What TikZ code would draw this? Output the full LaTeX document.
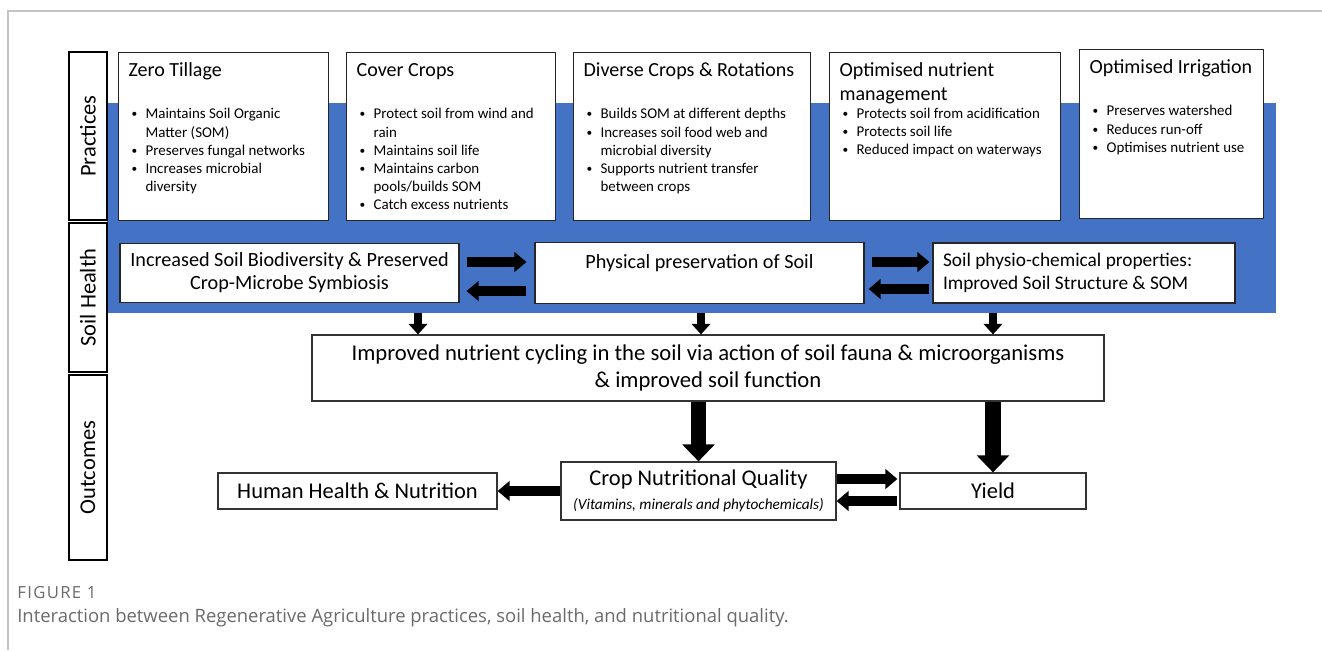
\documentclass[tikz,border=0pt]{standalone}
\usepackage{fontspec}
\setmainfont{Carlito}
\newfontfamily\capfont{Open Sans}
\newfontfamily\fignumfont[LetterSpace=8]{Open Sans}
\usetikzlibrary{arrows.meta,positioning,calc}

\definecolor{bandblue}{HTML}{4472C4}
\definecolor{capgray}{HTML}{6A6A6A}
\definecolor{framegray}{HTML}{C4C4C4}

% heading and bullet lines inside the practice cards
\newcommand{\ptitle}[2][14pt]{{\fontsize{11.4}{13.7}\selectfont\rule{0pt}{9pt}#2\par}\vspace{#1}}
\newcommand{\pitem}[1]{\par\hangindent=0.34cm\hangafter=1\noindent\hspace*{0.06cm}\makebox[0.28cm][l]{\raisebox{0.6pt}{\fontsize{6.5}{6.5}\selectfont\textbullet}}#1}
\newcommand{\card}[3]{\begin{minipage}[t][\dimexpr#2-8.8pt\relax][t]{\dimexpr#1-0.4cm\relax}\raggedright\let\\\newline\fontsize{8.5}{10.35}\selectfont#3\end{minipage}}

\begin{document}
\begin{tikzpicture}[x=0.02cm,y=-0.02cm,
  practice/.style={draw=black!85,line width=0.7pt,fill=white,anchor=north west,inner xsep=0.2cm,inner ysep=4.4pt},
  side/.style={draw=black,line width=0.8pt,fill=white,rotate=90,minimum height=0.76cm,inner sep=0pt,font=\fontsize{12.8}{14}\selectfont},
  soilbox/.style={draw=black!85,line width=0.7pt,fill=white,align=center,inner sep=0pt,font=\fontsize{11.5}{13.2}\selectfont},
  outbox/.style={draw=black!80,line width=0.7pt,fill=white,align=center,inner sep=0pt,font=\fontsize{12.8}{14.2}\selectfont},
  bigarrow/.style={line width=8.8pt,-{Triangle[length=9.7pt,width=18pt]}},
  midarrow/.style={line width=5.2pt,-{Triangle[length=6.8pt,width=11pt]}},
  thinarrow/.style={line width=4pt,-{Triangle[length=6pt,width=10.5pt]}}]
\useasboundingbox (0,0) rectangle (1322,650);

% open frame and the blue band behind the top two rows
\draw[framegray,line width=0.6pt] (8,650) |- (1322,11);
\fill[bandblue] (107,103) rectangle (1276,313);

% row labels
\node[side,minimum width=3.36cm] (practices) at (88,136) {Practices};
\node[side,minimum width=2.98cm] (health) at (88,297.5) {Soil Health};
\node[side,minimum width=3.7cm] (outcomes) at (88,467.5) {Outcomes};

% practices
\node[practice] (zero) at (118,52) {\card{4.2cm}{3.36cm}{%
  \ptitle{Zero Tillage}
  \pitem{Maintains Soil Organic\\Matter (SOM)}
  \pitem{Preserves fungal networks}
  \pitem{Increases microbial\\diversity}}};
\node[practice] (cover) at (346,52) {\card{4.18cm}{3.36cm}{%
  \ptitle{Cover Crops}
  \pitem{Protect soil from wind and\\rain}
  \pitem{Maintains soil life}
  \pitem{Maintains carbon\\pools/builds SOM}
  \pitem{Catch excess nutrients}}};
\node[practice] (diverse) at (573,52) {\card{4.74cm}{3.36cm}{%
  \ptitle{Diverse Crops \& Rotations}
  \pitem{Builds SOM at different depths}
  \pitem{Increases soil food web and\\microbial diversity}
  \pitem{Supports nutrient transfer\\between crops}}};
\node[practice] (nutrient) at (829,52) {\card{4.62cm}{3.36cm}{%
  \ptitle[0pt]{Optimised nutrient\\management}
  \pitem{Protects soil from acidification}
  \pitem{Protects soil life}
  \pitem{Reduced impact on waterways}}};
\node[practice] (irrigation) at (1079,49) {\card{3.68cm}{3.38cm}{%
  \ptitle{Optimised Irrigation}
  \pitem{Preserves watershed}
  \pitem{Reduces run-off}
  \pitem{Optimises nutrient use}}};

% soil health
\node[soilbox,minimum width=6.78cm,minimum height=1.18cm] (bio) at (289.5,273) {Increased Soil Biodiversity \& Preserved\\Crop-Microbe Symbiosis};
\node[soilbox,minimum width=6.58cm,minimum height=1.22cm] (phys) at (699.5,273) {Physical preservation of Soil\\\mbox{}};
\node[soilbox,minimum width=6.04cm,minimum height=1.2cm,align=flush left,text width=5.64cm,inner xsep=0.2cm,font=\fontsize{11}{13.4}\selectfont] (chem) at (1084,273) {Soil physio-chemical properties:\\Improved Soil Structure \& SOM};

\draw[midarrow,shorten <=0.14cm,shorten >=0.16cm] ([yshift=0.22cm]bio.east) -- ([yshift=0.22cm]phys.west);
\draw[midarrow,shorten <=0.16cm,shorten >=0.14cm] ([yshift=-0.36cm]phys.west) -- ([yshift=-0.36cm]bio.east);
\draw[midarrow,shorten <=0.14cm,shorten >=0.06cm] ([yshift=0.22cm]phys.east) -- ([yshift=0.22cm]chem.west);
\draw[midarrow,shorten <=0.06cm,shorten >=0.08cm] ([yshift=-0.32cm]chem.west) -- ([yshift=-0.32cm]phys.east);

% nutrient cycling
\node[outbox,minimum width=15.84cm,minimum height=1.32cm,font=\fontsize{12.9}{15.4}\selectfont] (cycling) at (708,368) {Improved nutrient cycling in the soil via action of soil fauna \& microorganisms\\\& improved soil function};

\coordinate (drop1) at (418,313);
\coordinate (drop2) at (701,313);
\coordinate (drop3) at (993,313);
\foreach \d in {drop1,drop2,drop3}
  \draw[thinarrow] (\d) -- (\d |- cycling.north);

% outcomes
\node[outbox,minimum width=5.5cm,minimum height=1.16cm] (crop) at (698.5,491) {Crop Nutritional Quality\\[-1pt]{\fontsize{8.7}{10}\selectfont\itshape (Vitamins, minerals and phytochemicals)}};
\node[outbox,minimum width=5.58cm,minimum height=0.72cm] (human) at (357.5,491) {Human Health \& Nutrition};
\node[outbox,minimum width=3.72cm,minimum height=0.72cm] (yield) at (993,491) {Yield};

\draw[bigarrow] (crop.north |- cycling.south) -- (crop.north);
\draw[bigarrow] (yield.north |- cycling.south) -- (yield.north);
\draw[midarrow] (crop.west) -- (human.east);
\draw[midarrow,shorten >=0.04cm] ([yshift=0.24cm]crop.east) -- ([yshift=0.24cm]yield.west);
\draw[midarrow,shorten <=0.04cm] ([yshift=-0.2cm]yield.west) -- ([yshift=-0.2cm]crop.east);

% caption
\node[anchor=base west,inner sep=0pt,text=capgray,font=\fignumfont\fontsize{9.5}{11}\selectfont] (fignum) at (17,598) {FIGURE 1};
\node[anchor=base west,inner sep=0pt,text=capgray,font=\capfont\fontsize{10.5}{12}\selectfont] (caption) at (17,622) {Interaction between Regenerative Agriculture practices, soil health, and nutritional quality.};
\end{tikzpicture}
\end{document}
